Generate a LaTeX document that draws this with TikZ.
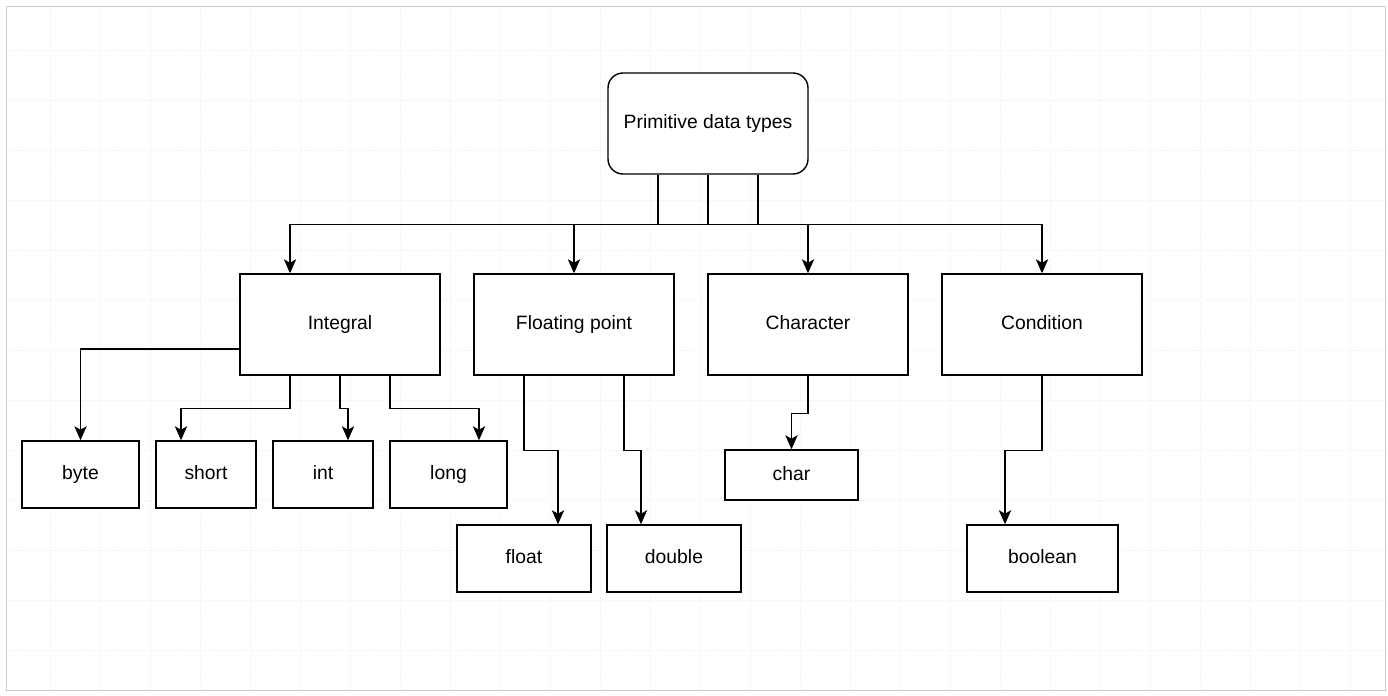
\documentclass[tikz,border=0pt]{standalone}
\usepackage{fontspec}
\setmainfont{Liberation Sans}
\usetikzlibrary{arrows.meta}

\begin{document}
\begin{tikzpicture}[
    box/.style={draw, line width=0.8pt, fill=white, inner sep=0pt,
      text height=1.6ex, text depth=0.45ex,
      font=\fontsize{11}{13}\selectfont},
    arr/.style={line width=0.8pt, -{Stealth[length=8pt, width=7pt, inset=2pt]}}
  ]
    \useasboundingbox (0, 0) rectangle (27.76, -13.92);
    %\draw[style=help lines,very thin] (0, 0) grid (28, -14);
    \draw[black!7, densely dotted, step=1cm] (0.12, -0.12) grid (27.7, -13.8);
    \draw[black!20] (0.12, -0.13) rectangle (27.7, -13.8);

    \node[box, rounded corners=0.3cm, minimum width=4cm, minimum height=2.02cm]
      (PDT) at (14.16, -2.47) {Primitive data types};

    \node[box, minimum width=4cm, minimum height=2.02cm] (INTEGRAL) at (6.8, -6.49) {Integral};
    \node[box, minimum width=4cm, minimum height=2.02cm] (FLOATING) at (11.48, -6.49) {Floating point};
    \node[box, minimum width=4cm, minimum height=2.02cm] (CHARACTER) at (16.16, -6.49) {Character};
    \node[box, minimum width=4cm, minimum height=2.02cm] (CONDITION) at (20.84, -6.49) {Condition};

    \node[box, minimum width=2.34cm, minimum height=1.34cm] (BYTE) at (1.61, -9.49) {byte};
    \node[box, minimum width=2cm, minimum height=1.34cm] (SHORT) at (4.12, -9.49) {short};
    \node[box, minimum width=2cm, minimum height=1.34cm] (INT) at (6.46, -9.49) {int};
    \node[box, minimum width=2.34cm, minimum height=1.34cm] (LONG) at (8.97, -9.49) {long};

    \node[box, minimum width=2.68cm, minimum height=1.34cm] (FLOAT) at (10.48, -11.17) {float};
    \node[box, minimum width=2.68cm, minimum height=1.34cm] (DOUBLE) at (13.48, -11.17) {double};
    \node[box, minimum width=2.66cm, minimum height=1cm] (CHAR) at (15.83, -9.5) {char};
    \node[box, minimum width=3.02cm, minimum height=1.34cm] (BOOLEAN) at (20.85, -11.17) {boolean};

    \draw[arr] ([xshift=-1cm]PDT.south) -- ++(0, -1) -| ([xshift=-1cm]INTEGRAL.north);
    \draw[arr] (PDT.south) -- ++(0, -1) -| (FLOATING.north);
    \draw[arr] (PDT.south) -- ++(0, -1) -| (CHARACTER.north);
    \draw[arr] ([xshift=1cm]PDT.south) -- ++(0, -1) -| (CONDITION.north);

    \draw[arr] ([yshift=-0.49cm]INTEGRAL.west) -| (BYTE.north);
    \draw[arr] ([xshift=-1cm]INTEGRAL.south) -- ++(0, -0.66) -| ([xshift=-0.5cm]SHORT.north);
    \draw[arr] (INTEGRAL.south) -- ++(0, -0.66) -| ([xshift=0.5cm]INT.north);
    \draw[arr] ([xshift=1cm]INTEGRAL.south) -- ++(0, -0.66) -| ([xshift=0.61cm]LONG.north);

    \draw[arr] ([xshift=-1cm]FLOATING.south) -- ++(0, -1.5) -| ([xshift=0.68cm]FLOAT.north);
    \draw[arr] ([xshift=1cm]FLOATING.south) -- ++(0, -1.5) -| ([xshift=-0.66cm]DOUBLE.north);
    \draw[arr] (CHARACTER.south) -- ++(0, -0.76) -| (CHAR.north);
    \draw[arr] (CONDITION.south) -- ++(0, -1.5) -| ([xshift=-0.75cm]BOOLEAN.north);
  \end{tikzpicture}
\end{document}
